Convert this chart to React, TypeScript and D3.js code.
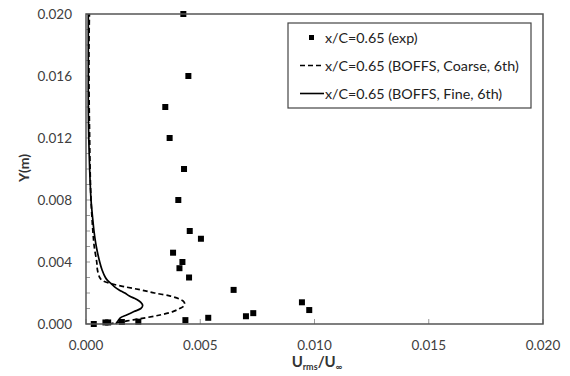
import React from "react";
import * as d3 from "d3";

const expU = [0.00426, 0.00448, 0.00347, 0.00366, 0.00429, 0.00404, 0.00454, 0.00503, 0.00381, 0.00422, 0.00409, 0.00451, 0.00646, 0.00732, 0.0070, 0.00535, 0.00435, 0.00229, 0.00157, 0.00097, 0.00085, 0.00034, 0.00945, 0.00977];
const expY = [0.020, 0.016, 0.014, 0.012, 0.010, 0.008, 0.006, 0.0055, 0.0046, 0.0040, 0.0036, 0.0030, 0.0022, 0.0007, 0.0005, 0.0004, 0.00025, 0.00015, 0.00013, 0.0001, 0.0001, 0.0, 0.0014, 0.0009];

const coarseY = [0, 0.0002, 0.0004, 0.0006, 0.0008, 0.001, 0.0012, 0.0014, 0.0016, 0.0018, 0.002, 0.0022, 0.0024, 0.0026, 0.0028, 0.003, 0.0035, 0.004, 0.005, 0.006, 0.008, 0.010, 0.012, 0.014, 0.016, 0.018, 0.020];
const coarseU = [0.0010, 0.0018, 0.0026, 0.0033, 0.0038, 0.0041, 0.0043, 0.0043, 0.0041, 0.0037, 0.0030, 0.0024, 0.0017, 0.0011, 0.00072, 0.0006, 0.0005, 0.00047, 0.00036, 0.0003, 0.00022, 0.00018, 0.00016, 0.00014, 0.00013, 0.00013, 0.00015];

const fineY = [0, 0.0002, 0.0004, 0.0006, 0.0008, 0.001, 0.0012, 0.0014, 0.0016, 0.0018, 0.002, 0.0022, 0.0024, 0.0026, 0.0028, 0.003, 0.0035, 0.004, 0.005, 0.006, 0.007, 0.008, 0.010, 0.012, 0.014, 0.016, 0.018, 0.020];
const fineU = [0.0013, 0.0014, 0.0015, 0.0018, 0.0021, 0.0024, 0.00248, 0.0024, 0.0022, 0.0019, 0.0017, 0.00145, 0.00125, 0.0011, 0.00095, 0.00085, 0.0007, 0.0006, 0.00045, 0.00035, 0.00028, 0.00022, 0.00016, 0.00012, 0.0001, 0.0001, 0.0001, 0.0001];

const xTicks = [0, 0.005, 0.01, 0.015, 0.02];
const yTicks = [0, 0.004, 0.008, 0.012, 0.016, 0.02];
const yMinor = [0.001, 0.002, 0.003, 0.005, 0.006, 0.007, 0.009, 0.010, 0.011, 0.013, 0.014, 0.015, 0.017, 0.018, 0.019];

const legendLabels = ["x/C=0.65 (exp)", "x/C=0.65 (BOFFS, Coarse, 6th)", "x/C=0.65 (BOFFS, Fine, 6th)"];

const L = 86, R = 543, T = 14, B = 324;
const FONT = "Lato, 'Open Sans', sans-serif";

export default function App() {
  const x = d3.scaleLinear().domain([0, 0.02]).range([L, R]);
  const y = d3.scaleLinear().domain([0, 0.02]).range([B, T]);
  const line = d3
    .line<[number, number]>()
    .x((d) => x(d[0]))
    .y((d) => y(d[1]))
    .curve(d3.curveCatmullRom);
  const coarse = coarseY.map((v, i) => [coarseU[i], v] as [number, number]);
  const fine = fineY.map((v, i) => [fineU[i], v] as [number, number]);
  const axisColor = "#555";
  return (
    <svg width={570} height={376} style={{ position: "absolute", left: 0, top: 0, background: "#fff" }}>
      <rect x={0} y={0} width={570} height={376} fill="#fff" />
      {yMinor.map((t) => (
        <line key={"ym" + t} x1={L} x2={L + 4} y1={y(t)} y2={y(t)} stroke="#999" strokeWidth={1} />
      ))}
      {yTicks.map((t) => (
        <line key={"yt" + t} x1={L} x2={L + 4} y1={y(t)} y2={y(t)} stroke="#999" strokeWidth={1} />
      ))}
      {xTicks.map((t) => (
        <line key={"xt" + t} x1={x(t)} x2={x(t)} y1={B} y2={B - 5} stroke="#999" strokeWidth={1} />
      ))}
      <path d={line(coarse) || ""} fill="none" stroke="#000" strokeWidth={1.7} strokeDasharray="5,3" />
      <path d={line(fine) || ""} fill="none" stroke="#000" strokeWidth={1.7} />
      {expU.map((u, i) => (
        <rect key={"e" + i} x={x(u) - 3} y={y(expY[i]) - 3} width={6} height={6} fill="#000" />
      ))}
      <rect x={L} y={T} width={R - L} height={B - T} fill="none" stroke={axisColor} strokeWidth={1.5} />
      {yTicks.map((t) => (
        <text key={"yl" + t} x={72} y={y(t)} dy="0.35em" textAnchor="end" fontFamily={FONT} fontSize={13.5} fill="#404040">
          {d3.format(".3f")(t)}
        </text>
      ))}
      {xTicks.map((t) => (
        <text key={"xl" + t} x={x(t)} y={345} dy="0.35em" textAnchor="middle" fontFamily={FONT} fontSize={13.5} fill="#404040">
          {d3.format(".3f")(t)}
        </text>
      ))}
      <text x={24} y={168} transform="rotate(-90 24 168)" textAnchor="middle" dy="0.35em" fontFamily={FONT} fontSize={14} fontWeight="bold" fill="#333">
        Y(m)
      </text>
      <text x={317} y={362} textAnchor="middle" dy="0.35em" fontFamily={FONT} fontSize={15} fontWeight="bold" fill="#333">
        U<tspan fontSize={9} dy="3">rms</tspan><tspan dy="-3">/U</tspan><tspan fontSize={9} dy="3">∞</tspan>
      </text>
      <rect x={288} y={23} width={243} height={85} fill="#fff" stroke="#444" strokeWidth={1.2} />
      <rect x={309} y={35} width={5} height={5} fill="#000" />
      <line x1={300} x2={324} y1={65.5} y2={65.5} stroke="#000" strokeWidth={1.6} strokeDasharray="5,3" />
      <line x1={300} x2={324} y1={93.5} y2={93.5} stroke="#000" strokeWidth={1.6} />
      {legendLabels.map((s, i) => (
        <text key={s} x={325} y={37.5 + i * 28} dy="0.35em" fontFamily={FONT} fontSize={14.3} fill="#222">
          {s}
        </text>
      ))}
    </svg>
  );
}
